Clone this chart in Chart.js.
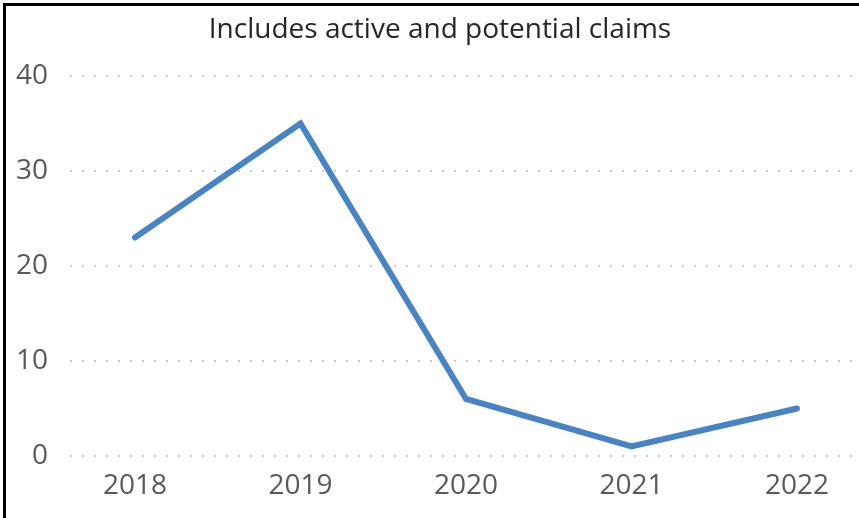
<!DOCTYPE html>
<html>
<head>
<meta charset="utf-8">
<script src="https://cdn.jsdelivr.net/npm/chart.js@4"></script>
<style>
  html, body { margin: 0; padding: 0; background: #fff; }
  #wrap { position: relative; width: 859px; height: 518px; }
  #frame { position: absolute; left: 3px; top: 3px; right: 0; bottom: 0;
           border-left: 3px solid #000; border-top: 3px solid #000; pointer-events: none; }
</style>
</head>
<body>
<div id="wrap">
  <canvas id="claimsChart" width="859" height="518"></canvas>
  <div id="frame"></div>
</div>
<script>
const ctx = document.getElementById('claimsChart').getContext('2d');

// Data
const years = ['2018', '2019', '2020', '2021', '2022'];
const claims = [23, 35, 6, 1, 5];
const yTicks = [0, 10, 20, 30, 40];
const chartTitle = 'Includes active and potential claims';

const fontFamily = '"Open Sans", "Liberation Sans", sans-serif';

// Title is centred on the original frame, not on the canvas, so draw it by hand
const titlePlugin = {
  id: 'frameTitle',
  afterDraw(chart) {
    const c = chart.ctx;
    c.save();
    c.font = '28px ' + fontFamily;
    c.fillStyle = '#262626';
    c.textAlign = 'center';
    c.textBaseline = 'middle';
    c.fillText(chartTitle, 440, 30);
    c.restore();
  }
};

new Chart(ctx, {
  type: 'line',
  data: {
    datasets: [{
      label: 'Claims',
      data: claims.map((v, i) => ({ x: i, y: v })),
      borderColor: '#4783c5',
      borderWidth: 6,
      borderCapStyle: 'round',
      borderJoinStyle: 'miter',
      pointRadius: 0,
      tension: 0,
      fill: false
    }]
  },
  options: {
    responsive: false,
    animation: false,
    layout: { padding: { top: 76, right: 7, left: 0, bottom: 0 } },
    plugins: {
      legend: { display: false },
      tooltip: { enabled: false },
      title: { display: false }
    },
    scales: {
      x: {
        type: 'linear',
        min: -0.3927,
        max: 4.3323,
        afterBuildTicks: scale => { scale.ticks = years.map((_, i) => ({ value: i })); },
        afterFit: scale => { scale.height = 62; },
        grid: { display: false },
        border: { display: false },
        ticks: {
          color: '#595959',
          font: { family: fontFamily, size: 28 },
          padding: 5,
          maxRotation: 0,
          autoSkip: false,
          callback: value => years[value]
        }
      },
      y: {
        min: 0,
        max: 40,
        afterBuildTicks: scale => { scale.ticks = yTicks.map(v => ({ value: v })); },
        afterFit: scale => { scale.width = 70; },
        // dotted grid lines
        border: { display: false, dash: [2, 10] },
        grid: {
          color: '#c8c8c8',
          lineWidth: 2,
          drawTicks: false
        },
        ticks: {
          color: '#595959',
          font: { family: fontFamily, size: 28 },
          padding: 22
        }
      }
    }
  },
  plugins: [titlePlugin]
});
</script>
</body>
</html>
